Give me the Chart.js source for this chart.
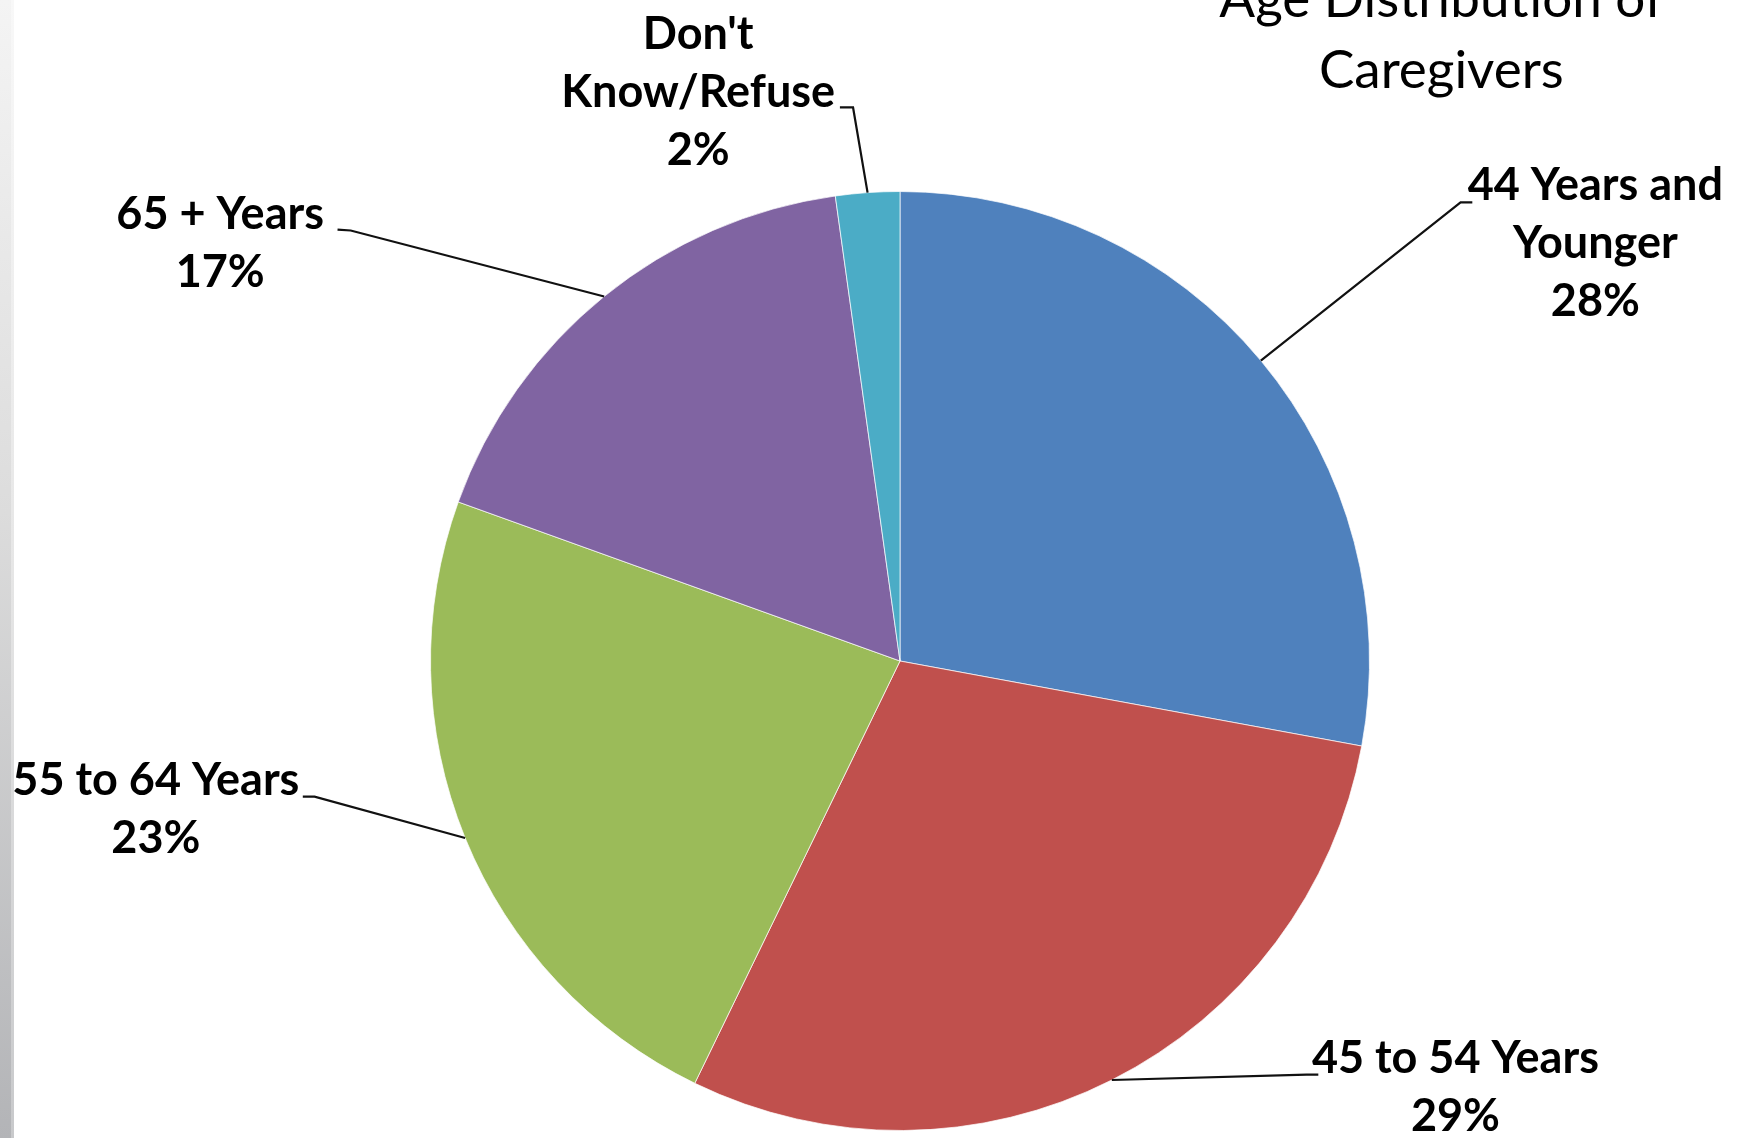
<!DOCTYPE html>
<html>
<head>
<meta charset="utf-8">
<script src="https://cdn.jsdelivr.net/npm/chart.js@4"></script>
<style>
  html, body { margin: 0; padding: 0; background: #ffffff; }
  #wrap { position: relative; width: 1739px; height: 1138px; overflow: hidden; background: #fff; }
  #bar { position: absolute; left: 0; top: 0; width: 11px; height: 1138px;
         background: linear-gradient(to bottom, #f4f4f4 0%, #dcdcdc 45%, #b3b4b7 100%); }
  #bar2 { position: absolute; left: 11px; top: 0; width: 3px; height: 1138px;
         background: linear-gradient(to bottom, #f8f8f8 0%, #e6e6e6 50%, #c8c9cb 100%); }
  canvas { position: absolute; left: 0; top: 0; }
</style>
</head>
<body>
<div id="wrap">
  <div id="bar"></div><div id="bar2"></div>
  <canvas id="c" width="1739" height="1138"></canvas>
</div>
<script>
// ---- data ----
const categories = ["44 Years and Younger", "45 to 54 Years", "55 to 64 Years", "65 + Years", "Don't Know/Refuse"];
const labelLines = [["44 Years and", "Younger"], ["45 to 54 Years"], ["55 to 64 Years"], ["65 + Years"], ["Don't", "Know/Refuse"]];
const shares = [27.9, 29.3, 23.3, 17.3, 2.2];
const sliceColors = ["#4F81BD", "#C0504D", "#9BBB59", "#8064A2", "#4BACC6"];
const titleLines = ["Age Distribution of", "Caregivers"];

// label layout (offsets in units of pie radius from pie centre)
const labelLayout = [
  { cx: 1.481, by: -0.981, lead: [1.194, -0.977], tick: [1.219, -0.977] },
  { cx: 1.183, by: 0.877,  lead: [0.866, 0.881],  tick: [0.891, 0.881] },
  { cx: -1.585, by: 0.285, lead: [-1.247, 0.289], tick: [-1.272, 0.289] },
  { cx: -1.448, by: -0.921, lead: [-1.170, -0.917], tick: [-1.198, -0.919] },
  { cx: -0.430, by: -1.304, lead: [-0.100, -1.179], tick: [-0.128, -1.179] }
];
const lineGap = 58 / 470;

const labelPlugin = {
  id: 'pieLabels',
  afterDraw(chart) {
    const ctx = chart.ctx;
    const meta = chart.getDatasetMeta(0);
    const total = shares.reduce((a, b) => a + b, 0);
    ctx.save();
    meta.data.forEach((arc, i) => {
      const p = arc.getProps(['x', 'y', 'startAngle', 'endAngle', 'outerRadius'], true);
      const R = p.outerRadius;
      const mid = (p.startAngle + p.endAngle) / 2;
      const ex = p.x + Math.cos(mid) * R;
      const ey = p.y + Math.sin(mid) * R;
      const L = labelLayout[i];
      ctx.strokeStyle = '#111111';
      ctx.lineWidth = 2.2;
      ctx.beginPath();
      ctx.moveTo(ex, ey);
      ctx.lineTo(p.x + L.lead[0] * R, p.y + L.lead[1] * R);
      ctx.lineTo(p.x + L.tick[0] * R, p.y + L.tick[1] * R);
      ctx.stroke();
      const lines = labelLines[i].concat([Math.round(shares[i] / total * 100) + '%']);
      ctx.fillStyle = '#000';
      ctx.font = 'bold 45px Lato, "Open Sans", sans-serif';
      ctx.textAlign = 'center';
      ctx.textBaseline = 'alphabetic';
      lines.forEach((t, k) => {
        ctx.fillText(t, p.x + L.cx * R, p.y + (L.by + k * lineGap) * R);
      });
    });
    const p0 = meta.data[0];
    const R0 = p0.outerRadius;
    ctx.font = '400 53px Lato, "Open Sans", sans-serif';
    ctx.textAlign = 'center';
    ctx.fillStyle = '#000';
    titleLines.forEach((t, k) => {
      ctx.fillText(t, p0.x + 1.153 * R0, p0.y + (-1.372 + k * 0.151) * R0);
    });
    ctx.restore();
  }
};

new Chart(document.getElementById('c'), {
  type: 'pie',
  data: {
    labels: categories,
    datasets: [{
      data: shares,
      backgroundColor: sliceColors,
      borderColor: 'rgba(255,255,255,0.7)',
      borderWidth: 1
    }]
  },
  options: {
    responsive: false,
    animation: false,
    layout: { padding: { top: 191, bottom: 7, left: 430, right: 369 } },
    plugins: { legend: { display: false }, tooltip: { enabled: false }, title: { display: false } }
  },
  plugins: [labelPlugin]
});
</script>
</body>
</html>
